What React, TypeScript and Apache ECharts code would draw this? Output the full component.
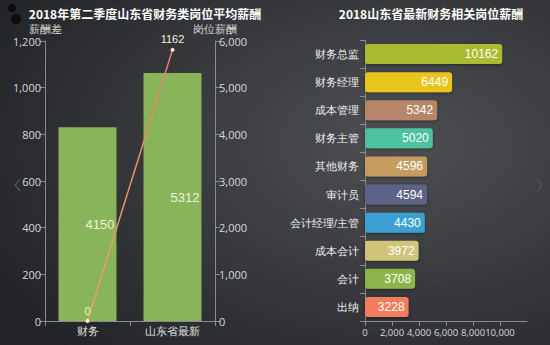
import React, { useEffect, useRef } from "react";
import * as echarts from "echarts";

const leftCategories = ["财务", "山东省最新"];
const salaryValues = [4150, 5312];
const diffValues = [0, 1162];

const rightCategories = ["财务总监", "财务经理", "成本管理", "财务主管", "其他财务", "审计员", "会计经理/主管", "成本会计", "会计", "出纳"];
const rightValues = [10162, 6449, 5342, 5020, 4596, 4594, 4430, 3972, 3708, 3228];
const rightColors = ["#aabb33", "#e9c41c", "#b5866a", "#4dc29f", "#c59b5f", "#5c6486", "#3a9fd2", "#d0c47a", "#8cb64b", "#f27b5c"];

export default function App() {
  const ref = useRef<HTMLDivElement>(null);
  useEffect(() => {
    const chart = echarts.init(ref.current!, null, { renderer: "svg" });
    const axisLabel = { color: "#d8d8d8", fontSize: 11, fontFamily: "Open Sans" };
    const axisLine = { show: true, lineStyle: { color: "#8a8c90" } };
    chart.setOption({
      animation: false,
      backgroundColor: {
        type: "radial",
        x: 0.72,
        y: 0.42,
        r: 0.85,
        colorStops: [
          { offset: 0, color: "#4d4f53" },
          { offset: 1, color: "#212326" },
        ],
      },
      title: [
        {
          text: "2018年第二季度山东省财务类岗位平均薪酬",
          left: 140,
          top: 2,
          textAlign: "center",
          textStyle: { color: "#ffffff", fontSize: 12, fontWeight: "bold", fontFamily: "Noto Sans CJK SC" },
        },
        {
          text: "2018山东省最新财务相关岗位薪酬",
          left: 426,
          top: 2,
          textAlign: "center",
          textStyle: { color: "#ffffff", fontSize: 12, fontWeight: "bold", fontFamily: "Noto Sans CJK SC" },
        },
      ],
      grid: [
        { left: 45, right: 335, top: 41, bottom: 24 },
        { left: 365, right: 23, top: 40, bottom: 24 },
      ],
      xAxis: [
        {
          gridIndex: 0,
          type: "category",
          data: leftCategories,
          axisLine,
          axisTick: { show: true, lineStyle: { color: "#8a8c90" } },
          axisLabel: { color: "#e0e0e0", fontSize: 11, margin: 4 },
        },
        {
          gridIndex: 1,
          type: "value",
          min: 0,
          max: 12000,
          interval: 2000,
          axisLine,
          axisTick: { show: true, lineStyle: { color: "#8a8c90" } },
          splitLine: { show: false },
          axisLabel: { ...axisLabel, fontSize: 9.5, showMaxLabel: false, margin: 6 },
        },
      ],
      yAxis: [
        {
          gridIndex: 0,
          type: "value",
          name: "薪酬差",
          nameGap: 7,
          nameTextStyle: { color: "#d8d8d8", fontSize: 11, align: "center" },
          min: 0,
          max: 1200,
          interval: 200,
          axisLine,
          axisTick: { show: true, lineStyle: { color: "#8a8c90" } },
          splitLine: { show: false },
          axisLabel: { ...axisLabel, margin: 4 },
        },
        {
          gridIndex: 0,
          type: "value",
          position: "right",
          name: "岗位薪酬",
          nameGap: 7,
          nameTextStyle: { color: "#d8d8d8", fontSize: 11, align: "center" },
          min: 0,
          max: 6000,
          interval: 1000,
          axisLine,
          axisTick: { show: true, lineStyle: { color: "#8a8c90" } },
          splitLine: { show: false },
          axisLabel: { ...axisLabel, margin: 4 },
        },
        {
          gridIndex: 1,
          type: "category",
          inverse: true,
          data: rightCategories,
          axisLine,
          axisTick: { show: true, lineStyle: { color: "#8a8c90" } },
          axisLabel: { color: "#eeeeee", fontSize: 10.5, margin: 6 },
        },
      ],
      series: [
        {
          type: "bar",
          xAxisIndex: 0,
          yAxisIndex: 1,
          data: salaryValues,
          barWidth: 58,
          itemStyle: { color: "#88b45a" },
          label: { show: true, position: "insideRight", color: "#eef4d8", fontSize: 13, distance: 2 },
          z: 2,
        },
        {
          type: "line",
          xAxisIndex: 0,
          yAxisIndex: 0,
          data: diffValues,
          symbol: "circle",
          symbolSize: 4,
          itemStyle: { color: "#fff4d0" },
          lineStyle: {
            width: 1.5,
            color: {
              type: "linear",
              x: 0, y: 1, x2: 0, y2: 0,
              colorStops: [
                { offset: 0, color: "#e8a85e" },
                { offset: 1, color: "#ee7a78" },
              ],
            },
          },
          label: { show: true, position: "top", color: "#f4f0d8", fontSize: 11, distance: 3 },
          z: 3,
        },
        {
          type: "bar",
          xAxisIndex: 1,
          yAxisIndex: 2,
          barWidth: 20,
          data: rightValues.map((v, i) => ({ value: v, itemStyle: { color: rightColors[i] } })),
          itemStyle: { borderRadius: 3, shadowColor: "rgba(0,0,0,0.4)", shadowBlur: 3, shadowOffsetY: 1 },
          label: { show: true, position: "insideRight", color: "#ffffff", fontSize: 12, distance: 4 },
        },
      ],
      graphic: [
        { type: "circle", shape: { cx: 12, cy: 8, r: 4 }, style: { fill: "#0c0c0c" } },
        { type: "circle", shape: { cx: 16, cy: 19, r: 5 }, style: { fill: "#0c0c0c" } },
        { type: "polyline", shape: { points: [[20, 179], [15, 185], [20, 191]] }, style: { stroke: "#55585c", lineWidth: 1.2, fill: null } },
        { type: "polyline", shape: { points: [[537, 179], [542, 185], [537, 191]] }, style: { stroke: "#55585c", lineWidth: 1.2, fill: null } },
      ],
    });
    return () => chart.dispose();
  }, []);
  return <div ref={ref} style={{ position: "absolute", left: 0, top: 0, width: 550, height: 345 }} />;
}
